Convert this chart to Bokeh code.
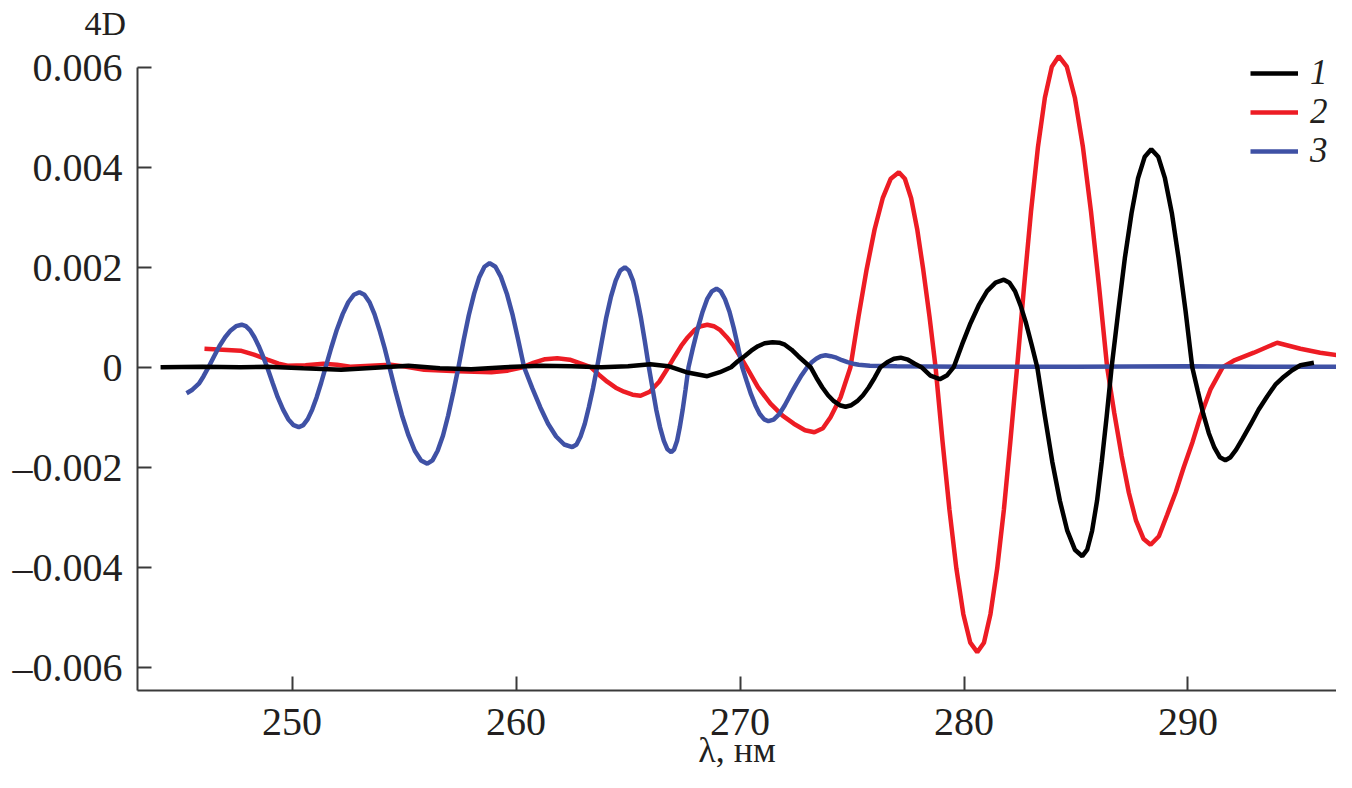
from bokeh.plotting import figure
from bokeh.models import Range1d, FixedTicker, CustomJSTickFormatter, Legend, LegendItem, Title
from bokeh.embed import file_html
from bokeh.resources import INLINE

# ---- data (wavelength, nm ; fourth-derivative values 4D) ----
lam1 = [244.13, 246.0, 247.7, 248.9, 250.5, 252.2, 253.7, 255.2, 256.6, 258.0, 259.5, 261.1,
        262.5, 263.8, 265.0, 266.0, 266.8, 267.6, 268.54, 269.1, 269.6, 269.9, 270.2, 270.5,
        270.8, 271.1, 271.45, 271.75, 272.0, 272.3, 272.6, 272.9, 273.15, 273.41, 273.67, 273.93,
        274.19, 274.45, 274.71, 274.97, 275.23, 275.49, 275.75, 276.01, 276.27, 276.57, 276.87,
        277.17, 277.5, 277.8, 278.1, 278.5, 278.92, 279.25, 279.54, 279.91, 280.29, 280.66,
        281.03, 281.41, 281.78, 282.03, 282.28, 282.52, 282.77, 283.02, 283.27, 283.61, 283.94,
        284.28, 284.61, 284.95, 285.28, 285.50, 285.72, 285.94, 286.15, 286.37, 286.59, 286.89,
        287.18, 287.48, 287.77, 288.07, 288.36, 288.67, 288.97, 289.28, 289.58, 289.89, 290.19,
        290.44, 290.68, 290.93, 291.18, 291.42, 291.67, 291.9, 292.15, 292.45, 292.79, 293.15,
        293.54, 293.9, 294.28, 294.65, 295.02, 295.62]
d1 = [0.0, 0.00001, 0.0, 0.00001, -0.00002, -0.00005, -0.00001, 0.00003, -0.00002, -0.00004, 0.0,
      0.00003, 0.00002, 0.0, 0.00002, 0.00006, 0.00002, -0.0001, -0.00018, -0.0001, 0.0, 0.00012,
      0.00022, 0.00033, 0.00042, 0.00048, 0.0005, 0.00049, 0.00045, 0.00035, 0.00022, 0.0001, 0.0,
      -0.00021, -0.0004, -0.00056, -0.00068, -0.00076, -0.00079, -0.00076, -0.00068, -0.00056,
      -0.0004, -0.00021, 0.0, 0.0001, 0.00017, 0.00019, 0.00015, 0.00007, 0.0, -0.00017, -0.00024,
      -0.00016, 0.0, 0.00045, 0.00088, 0.00124, 0.00152, 0.00169, 0.00175, 0.00169, 0.00152,
      0.00124, 0.00088, 0.00045, 0.0, -0.00098, -0.00189, -0.00267, -0.00327, -0.00365, -0.00378,
      -0.00365, -0.00327, -0.00267, -0.00189, -0.00098, 0.0, 0.00113, 0.00218, 0.00308, 0.00378,
      0.00421, 0.00436, 0.00421, 0.00378, 0.00308, 0.00218, 0.00113, 0.0, -0.00048, -0.00093,
      -0.00132, -0.00161, -0.0018, -0.00186, -0.0018, -0.00165, -0.00142, -0.00115, -0.00085,
      -0.00058, -0.00035, -0.00019, -0.00006, 0.00004, 0.00009]

lam2 = [246.09, 246.9, 247.7, 248.3, 248.9, 249.4, 249.8, 250.6, 251.4, 252.0, 252.6, 253.5,
        254.4, 255.1, 255.9, 257.4, 258.9, 259.6, 260.3, 260.8, 261.3, 261.84, 262.4, 262.9,
        263.33, 263.7, 264.07, 264.45, 264.82, 265.2, 265.56, 265.97, 266.39, 266.8, 267.09,
        267.38, 267.67, 267.96, 268.25, 268.54, 268.83, 269.12, 269.41, 269.71, 270.0, 270.29,
        270.8, 271.36, 271.9, 272.4, 272.9, 273.32, 273.7, 274.04, 274.49, 274.93, 275.29,
        275.65, 276.01, 276.37, 276.73, 277.09, 277.36, 277.64, 277.91, 278.18, 278.46, 278.73,
        279.04, 279.35, 279.66, 279.97, 280.28, 280.59, 280.89, 281.18, 281.48, 281.78, 282.07,
        282.37, 282.68, 282.99, 283.30, 283.61, 283.92, 284.23, 284.59, 284.95, 285.31, 285.67,
        286.03, 286.39, 286.71, 287.04, 287.36, 287.68, 288.01, 288.33, 288.7, 289.07, 289.45,
        289.81, 290.2, 290.56, 291.0, 291.55, 292.04, 292.94, 293.98, 295.02, 295.9, 297.1]
d2 = [0.00037, 0.00035, 0.00033, 0.00025, 0.00015, 0.00007, 0.00003, 0.00004, 0.00007, 0.00005,
      0.00001, 0.00003, 0.00005, 0.00001, -0.00005, -0.00008, -0.0001, -0.00007, 0.0, 0.00009,
      0.00016, 0.00018, 0.00015, 0.00007, 0.0, -0.00015, -0.00029, -0.00041, -0.00049, -0.00055,
      -0.00057, -0.00049, -0.00029, 0.0, 0.00022, 0.00043, 0.0006, 0.00074, 0.00082, 0.00085,
      0.00082, 0.00074, 0.0006, 0.00043, 0.00022, 0.0, -0.0004, -0.00073, -0.00097, -0.00113,
      -0.00126, -0.0013, -0.00122, -0.001, -0.0006, 0.0, 0.00101, 0.00195, 0.00276, 0.00338,
      0.00377, 0.0039, 0.00377, 0.00338, 0.00276, 0.00195, 0.00101, 0.0, -0.00148, -0.00285,
      -0.00403, -0.00494, -0.00551, -0.0057, -0.00551, -0.00494, -0.00403, -0.00285, -0.00148,
      0.0, 0.00161, 0.00311, 0.0044, 0.00539, 0.00601, 0.00622, 0.00601, 0.00539, 0.0044,
      0.00311, 0.00161, 0.0, -0.00092, -0.00178, -0.00251, -0.00307, -0.00343, -0.00355,
      -0.00338, -0.00295, -0.0025, -0.002, -0.0015, -0.00098, -0.00045, 0.0, 0.00013, 0.00029,
      0.00049, 0.00037, 0.00029, 0.00021]

lam3 = [245.29, 245.55, 245.84, 246.05, 246.27, 246.52, 246.76, 247.01, 247.26, 247.50, 247.75,
        247.94, 248.13, 248.32, 248.51, 248.70, 248.89, 249.13, 249.36, 249.60, 249.83, 250.07,
        250.30, 250.50, 250.70, 250.90, 251.10, 251.30, 251.50, 251.75, 252.00, 252.26, 252.51,
        252.76, 253.01, 253.23, 253.46, 253.68, 253.90, 254.13, 254.35, 254.63, 254.91, 255.20,
        255.48, 255.76, 256.04, 256.27, 256.50, 256.74, 256.97, 257.20, 257.43, 257.66, 257.89,
        258.13, 258.36, 258.59, 258.82, 259.08, 259.33, 259.59, 259.85, 260.10, 260.36, 260.72,
        261.08, 261.43, 261.79, 262.15, 262.51, 262.70, 262.88, 263.07, 263.25, 263.44, 263.62,
        263.83, 264.03, 264.24, 264.45, 264.65, 264.86, 265.04, 265.22, 265.39, 265.57, 265.75,
        265.93, 266.10, 266.26, 266.43, 266.60, 266.76, 266.93, 267.06, 267.19, 267.31, 267.44,
        267.57, 267.70, 267.91, 268.12, 268.33, 268.53, 268.74, 268.95, 269.14, 269.33, 269.53,
        269.72, 269.91, 270.10, 270.30, 270.49, 270.69, 270.88, 271.08, 271.27, 271.5, 271.75,
        272.0, 272.25, 272.5, 272.75, 273.0, 273.2, 273.4, 273.6, 273.82, 274.05, 274.3, 274.55,
        274.8, 275.05, 275.3, 275.8, 277.0, 280.0, 285.0, 290.0, 293.0, 296.8]
d3 = [-0.00052, -0.00045, -0.00033, -0.00018, 0.0, 0.00022, 0.000425, 0.0006, 0.000736, 0.000821,
      0.00085, 0.000821, 0.000736, 0.0006, 0.000425, 0.00022, 0.0, -0.000311, -0.0006, -0.000848,
      -0.001039, -0.001159, -0.0012, -0.001159, -0.001039, -0.000848, -0.0006, -0.000311, 0.0,
      0.000389, 0.00075, 0.001061, 0.001299, 0.001449, 0.0015, 0.001449, 0.001299, 0.001061,
      0.00075, 0.000389, 0.0, -0.0005, -0.000965, -0.001365, -0.001671, -0.001864, -0.00193,
      -0.001864, -0.001671, -0.001365, -0.000965, -0.0005, 0.0, 0.000539, 0.00104, 0.001471,
      0.001801, 0.002009, 0.00208, 0.002009, 0.001801, 0.001471, 0.00104, 0.000539, 0.0,
      -0.000414, -0.0008, -0.001131, -0.001386, -0.001546, -0.0016, -0.001546, -0.001386,
      -0.001131, -0.0008, -0.000414, 0.0, 0.000518, 0.001, 0.001414, 0.001732, 0.001932, 0.002,
      0.001932, 0.001732, 0.001414, 0.001, 0.000518, 0.0, -0.00044, -0.00085, -0.001202,
      -0.001472, -0.001642, -0.0017, -0.001642, -0.001472, -0.001202, -0.00085, -0.00044, 0.0,
      0.000407, 0.000785, 0.00111, 0.00136, 0.001517, 0.00157, 0.001517, 0.00136, 0.00111,
      0.000785, 0.000407, 0.0, -0.00028, -0.00054, -0.000764, -0.000935, -0.001043, -0.00108,
      -0.00105, -0.00094, -0.00076, -0.00055, -0.00035, -0.00016, 0.0, 0.0001, 0.00017, 0.00022,
      0.00024, 0.00022, 0.00019, 0.00014, 0.0001, 0.00007, 0.00005, 0.00003, 0.00002, 0.00001,
      0.00001, 0.00002, 0.00001, 0.00001]

series_labels = ["1", "2", "3"]
x_ticks = [250, 260, 270, 280, 290]
y_ticks = [-0.006, -0.004, -0.002, 0.0, 0.002, 0.004, 0.006]

# ---- figure ----
SERIF = "Liberation Serif"
TXT = "#231f20"
AX = "#3a3a3a"

p = figure(width=1336, height=772, output_backend="svg", toolbar_location=None, title=None,
           x_range=Range1d(243.1, 296.63), y_range=Range1d(-0.006466, 0.006454),
           min_border_left=137, min_border_right=0, min_border_top=44, min_border_bottom=82)
p.outline_line_color = None
p.xgrid.visible = False
p.ygrid.visible = False
p.background_fill_color = "white"
p.border_fill_color = "white"

r2 = p.line(lam2, d2, line_color="#ED1C24", line_width=4.5)
r3 = p.line(lam3, d3, line_color="#3F51A5", line_width=4.5)
r1 = p.line(lam1, d1, line_color="#000000", line_width=4.5)

for ax in (p.xaxis[0], p.yaxis[0]):
    ax.axis_line_width = 2
    ax.axis_line_color = AX
    ax.major_tick_line_width = 2
    ax.major_tick_line_color = AX
    ax.major_tick_in = 14
    ax.major_tick_out = 0
    ax.minor_tick_in = 0
    ax.minor_tick_out = 0
    ax.major_label_text_font = SERIF
    ax.major_label_text_font_size = "40px"
    ax.major_label_text_color = TXT

xa = p.xaxis[0]
xa.ticker = FixedTicker(ticks=x_ticks)
xa.major_label_standoff = 18
xa.axis_label = "λ, нм"
xa.axis_label_text_font = SERIF
xa.axis_label_text_font_size = "36px"
xa.axis_label_text_font_style = "normal"
xa.axis_label_text_color = TXT
xa.axis_label_standoff = -8

ya = p.yaxis[0]
ya.ticker = FixedTicker(ticks=y_ticks)
ya.bounds = (-0.006466, 0.006)
ya.major_label_standoff = 15
ya.formatter = CustomJSTickFormatter(code="""
if (Math.abs(tick) < 1e-12) { return "0"; }
const s = Math.abs(tick).toFixed(3);
return (tick < 0 ? "\\u2013" : "") + s;
""")

p.add_layout(Title(text="4D", align="left", offset=-53, standoff=5, text_font=SERIF,
                   text_font_size="34px", text_font_style="normal", text_color=TXT), "above")

colors_renderers = [r1, r2, r3]
legend_y = [597, 558, 519]
for lab, rend, ly in zip(series_labels, colors_renderers, legend_y):
    lg = Legend(items=[LegendItem(label=lab, renderers=[rend])],
                location=(1113, ly), glyph_width=48, glyph_height=36, label_height=36,
                spacing=0, padding=0, margin=0, label_standoff=12,
                border_line_color=None, background_fill_alpha=0,
                label_text_font=SERIF, label_text_font_style="italic",
                label_text_font_size="35px", label_text_color=TXT)
    p.add_layout(lg)

open("out.html", "w").write(file_html(p, INLINE))
